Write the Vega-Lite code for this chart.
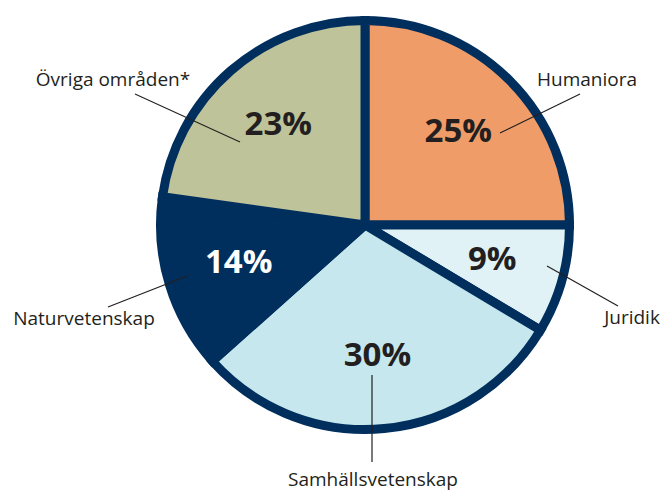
{
  "$schema": "https://vega.github.io/schema/vega-lite/v6.json",
  "width": 594,
  "height": 450,
  "autosize": "none",
  "padding": {"left": 68, "top": 0, "right": 0, "bottom": 41},
  "background": "white",
  "config": {"view": {"stroke": null}},
  "datasets": {
    "andelar": [
      {"omrade": "Humaniora", "andel": 25.0, "etikett": "25%", "ordning": 1},
      {"omrade": "Juridik", "andel": 8.6, "etikett": "9%", "ordning": 2},
      {"omrade": "Samhällsvetenskap", "andel": 29.8, "etikett": "30%", "ordning": 3},
      {"omrade": "Naturvetenskap", "andel": 13.8, "etikett": "14%", "ordning": 4},
      {"omrade": "Övriga områden*", "andel": 22.8, "etikett": "23%", "ordning": 5}
    ],
    "etiketter": [
      {"omrade": "Humaniora", "tx": 222, "ty": 139, "x1": 135, "y1": 92, "x2": 215, "y2": 131},
      {"omrade": "Juridik", "tx": 267, "ty": -99, "x1": 182, "y1": -41, "x2": 253, "y2": -81},
      {"omrade": "Samhällsvetenskap", "tx": 8, "ty": -261, "x1": 7, "y1": -150, "x2": 7, "y2": -237},
      {"omrade": "Naturvetenskap", "tx": -281, "ty": -100, "x1": -178, "y1": -51, "x2": -257, "y2": -82},
      {"omrade": "Övriga områden*", "tx": -252, "ty": 139, "x1": -125, "y1": 83, "x2": -230, "y2": 131}
    ]
  },
  "layer": [
    {
      "data": {"name": "andelar"},
      "mark": {"type": "arc", "radius": 204.5, "stroke": "#002E5D", "strokeWidth": 9},
      "encoding": {
        "theta": {"field": "andel", "type": "quantitative", "stack": true},
        "order": {"field": "ordning", "type": "quantitative"},
        "color": {
          "field": "omrade",
          "type": "nominal",
          "scale": {
            "domain": ["Humaniora", "Juridik", "Samhällsvetenskap", "Naturvetenskap", "Övriga områden*"],
            "range": ["#F09C69", "#E0F2F5", "#C5E7ED", "#002E5D", "#BEC399"]
          },
          "legend": null
        }
      }
    },
    {
      "data": {"name": "andelar"},
      "mark": {"type": "text", "radius": 132, "font": "Open Sans", "fontWeight": "bold", "fontSize": 33, "baseline": "middle", "align": "center"},
      "encoding": {
        "theta": {"field": "andel", "type": "quantitative", "stack": true},
        "order": {"field": "ordning", "type": "quantitative"},
        "text": {"field": "etikett", "type": "nominal"},
        "color": {
          "condition": {"test": "datum.omrade === 'Naturvetenskap'", "value": "#FFFFFF"},
          "value": "#231F20"
        }
      }
    },
    {
      "data": {"name": "etiketter"},
      "mark": {"type": "rule", "color": "#231F20", "strokeWidth": 1.2},
      "encoding": {
        "x": {"field": "x1", "type": "quantitative", "scale": {"domain": [-297, 297], "nice": false, "zero": false}, "axis": null},
        "y": {"field": "y1", "type": "quantitative", "scale": {"domain": [-225, 225], "nice": false, "zero": false}, "axis": null},
        "x2": {"field": "x2"},
        "y2": {"field": "y2"}
      }
    },
    {
      "data": {"name": "etiketter"},
      "mark": {"type": "text", "font": "Open Sans", "fontSize": 19, "baseline": "alphabetic", "align": "center", "color": "#231F20"},
      "encoding": {
        "x": {"field": "tx", "type": "quantitative", "scale": {"domain": [-297, 297], "nice": false, "zero": false}, "axis": null},
        "y": {"field": "ty", "type": "quantitative", "scale": {"domain": [-225, 225], "nice": false, "zero": false}, "axis": null},
        "text": {"field": "omrade", "type": "nominal"}
      }
    }
  ]
}
